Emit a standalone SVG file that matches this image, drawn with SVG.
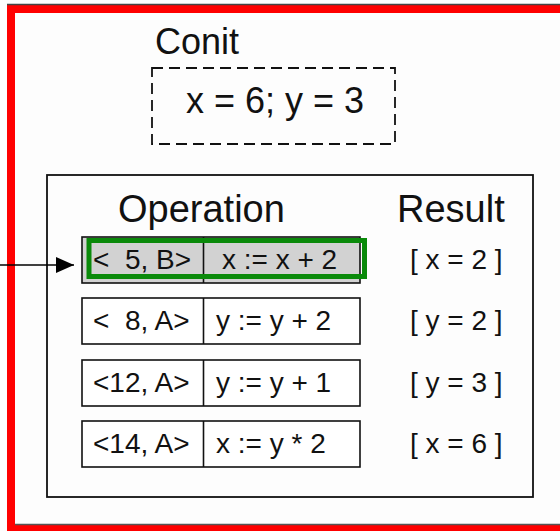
<svg xmlns="http://www.w3.org/2000/svg" width="560" height="531" viewBox="0 0 560 531">
  <style>
    text { font-family: "Liberation Sans", Arial, sans-serif; fill: #111; white-space: pre; }
    .hdr { font-size: 36px; }
    .col { font-size: 38px; }
    .cell { font-size: 28px; }
    .box { fill: #ffffff; stroke: #111; stroke-width: 1.6; }
    .sel { fill: #d2d2d2; stroke: #111; stroke-width: 1.6; }
    .div { stroke: #111; stroke-width: 1.6; }
  </style>
  <defs>
    <marker id="arrow" markerWidth="18" markerHeight="16" refX="18" refY="8" orient="auto" markerUnits="userSpaceOnUse">
      <path d="M0,0 L18,8 L0,16 Z" fill="#000"/>
    </marker>
  </defs>
  <rect x="0" y="0" width="560" height="531" fill="#fdfdfd"/>
  <g id="frame">
    <path d="M560 9 H11 V529 H560" fill="none" stroke="#ff0000" stroke-width="8"/>
    <line x1="7" y1="4.5" x2="560" y2="4.5" stroke="#444" stroke-width="1.5"/>
    <line x1="15" y1="524.5" x2="560" y2="524.5" stroke="#555" stroke-width="1.5"/>
  </g>
  <g id="conit">
    <text class="hdr" x="155" y="54">Conit</text>
    <rect x="152" y="68" width="243" height="76" fill="none" stroke="#111" stroke-width="1.8" stroke-dasharray="11,6"/>
    <text class="hdr" x="186" y="113">x = 6; y = 3</text>
  </g>
  <g id="log">
    <rect x="47" y="175" width="486" height="322" fill="none" stroke="#111" stroke-width="1.8"/>
    <text class="col" x="118" y="222">Operation</text>
    <text class="col" x="397" y="222">Result</text>
  </g>
  <g id="row1">
    <rect class="sel" x="82" y="237" width="278" height="46"/>
    <line class="div" x1="203.5" y1="237" x2="203.5" y2="283"/>
    <text class="cell" x="93" y="269" xml:space="preserve">&lt;  5, B&gt;</text>
    <text class="cell" x="222" y="269">x := x + 2</text>
    <rect x="89" y="240.5" width="275.5" height="36" fill="none" stroke="#0a8a0a" stroke-width="5"/>
    <text class="cell" x="410" y="269">[ x = 2 ]</text>
  </g>
  <g id="row2">
    <rect class="box" x="82" y="298" width="278" height="46"/>
    <line class="div" x1="203.5" y1="298" x2="203.5" y2="344"/>
    <text class="cell" x="93" y="330" xml:space="preserve">&lt;  8, A&gt;</text>
    <text class="cell" x="216" y="330">y := y + 2</text>
    <text class="cell" x="410" y="330">[ y = 2 ]</text>
  </g>
  <g id="row3">
    <rect class="box" x="82" y="360" width="278" height="46"/>
    <line class="div" x1="203.5" y1="360" x2="203.5" y2="406"/>
    <text class="cell" x="93" y="392">&lt;12, A&gt;</text>
    <text class="cell" x="216" y="392">y := y + 1</text>
    <text class="cell" x="410" y="392">[ y = 3 ]</text>
  </g>
  <g id="row4">
    <rect class="box" x="82" y="421" width="278" height="46"/>
    <line class="div" x1="203.5" y1="421" x2="203.5" y2="467"/>
    <text class="cell" x="93" y="453">&lt;14, A&gt;</text>
    <text class="cell" x="216" y="453">x := y * 2</text>
    <text class="cell" x="410" y="453">[ x = 6 ]</text>
  </g>
  <g id="connectors">
    <line x1="0" y1="265" x2="74" y2="265" stroke="#000" stroke-width="1.6" marker-end="url(#arrow)"/>
  </g>
</svg>
